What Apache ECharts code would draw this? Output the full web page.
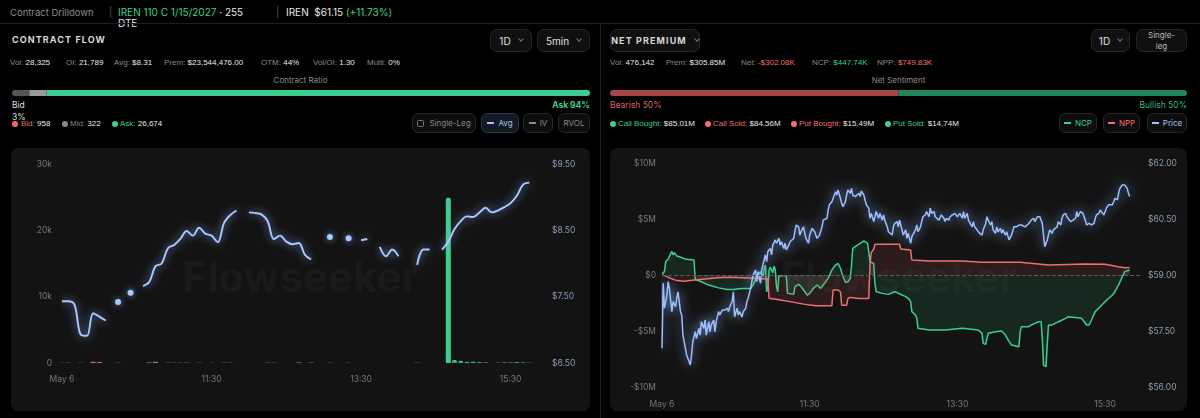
<!DOCTYPE html>
<html><head><meta charset="utf-8">
<script src="https://cdn.jsdelivr.net/npm/echarts@6.0.0/dist/echarts.min.js"></script>
<style>
*{box-sizing:border-box}
html,body{margin:0;padding:0;background:#000}
body{width:1200px;height:418px;overflow:hidden;position:relative;font-family:Inter,"Liberation Sans",Arial,sans-serif;color:#e6e6e6}
.a{position:absolute;white-space:nowrap;line-height:1}
.g{color:#8a8a8a}
.w{color:#e8e8e8}
.grn{color:#3ecf8e}
.red{color:#f07070}
.btn{position:absolute;top:29px;height:23px;border:1px solid #262626;background:#101010;border-radius:7px;display:flex;align-items:center;justify-content:center;font-size:10px;color:#e0e0e0}
.chev{display:inline-block;width:4px;height:4px;border-right:1px solid #777;border-bottom:1px solid #777;transform:rotate(45deg);margin-left:8px;margin-top:-3px}
.stat{position:absolute;top:59px;font-family:"Liberation Sans",Arial,sans-serif;font-size:8px;line-height:8px;white-space:nowrap;color:#8a8a8a}
.stat b{font-weight:400;color:#e8e8e8}
.lg{position:absolute;top:120px;font-family:"Liberation Sans",Arial,sans-serif;font-size:8px;line-height:8px;white-space:nowrap}
.dot{position:absolute;top:121px;width:6px;height:6px;border-radius:50%}
.sbtn{position:absolute;top:113px;height:20px;border:1px solid #262626;background:#0d0d0d;border-radius:6px;font-size:8px;color:#888;display:flex;align-items:center;justify-content:center}
.dash{display:inline-block;width:7px;height:1.5px;margin-right:4px}
.card{position:absolute;top:148px;height:263px;border-radius:8px;overflow:hidden;background:#131313}
.ttl{font-weight:700;font-size:9px;letter-spacing:1.1px;color:#d8d8d8}
</style></head><body>
<!-- header -->
<div class="a" style="left:10px;top:8px;font-size:9.5px;color:#8a8a8a">Contract Drilldown</div>
<div class="a" style="left:109px;top:7px;font-size:10px;color:#555">|</div>
<div class="a" style="left:118px;top:7px;font-size:10px;line-height:11px"><span class="grn">IREN 110 C 1/15/2027</span> <span class="w">· 255</span><br><span class="w">DTE</span></div>
<div class="a" style="left:276px;top:7px;font-size:10px;color:#555">|</div>
<div class="a" style="left:286px;top:7px;font-size:10px"><span class="w">IREN</span>&nbsp; <span class="w">$61.15</span> <span class="grn">(+11.73%)</span></div>
<div style="position:absolute;left:0;top:23px;width:1200px;height:1px;background:#1e1e1e"></div>
<div style="position:absolute;left:600px;top:24px;width:1px;height:394px;background:#1e1e1e"></div>

<!-- left panel -->
<div class="a ttl" style="left:12px;top:35px">CONTRACT FLOW</div>
<div class="btn" style="left:490px;width:42px">1D<span class="chev"></span></div>
<div class="btn" style="left:537px;width:53px">5min<span class="chev"></span></div>
<div class="stat" style="left:10px">Vol: <b>28,325</b></div>
<div class="stat" style="left:66px">OI: <b>21,789</b></div>
<div class="stat" style="left:114px">Avg: <b>$8.31</b></div>
<div class="stat" style="left:164px">Prem: <b>$23,544,476.00</b></div>
<div class="stat" style="left:261px">OTM: <b>44%</b></div>
<div class="stat" style="left:313px">Vol/OI: <b>1.30</b></div>
<div class="stat" style="left:367px">Multi: <b>0%</b></div>
<div class="a" style="left:11px;width:579px;text-align:center;top:76px;font-size:8px;color:#8a8a8a">Contract Ratio</div>
<div id="ratioL" style="position:absolute;left:12px;top:90px;width:578px;height:6px"></div>
<div class="a" style="left:12px;top:101px;font-size:8.5px;color:#ddd">Bid</div>
<div class="a" style="left:12px;top:113px;font-size:8.5px;color:#ddd">3%</div>
<div class="a" style="right:610px;top:101px;font-size:8.5px;font-weight:700;color:#3ecf8e">Ask 94%</div>
<div class="dot" style="left:12px;background:#f26b6b"></div>
<div class="lg" style="left:21px"><span style="color:#e06a6a">Bid:</span> <span class="w">958</span></div>
<div class="dot" style="left:62px;background:#8a8a8a"></div>
<div class="lg" style="left:70px"><span class="g">Mid:</span> <span class="w">322</span></div>
<div class="dot" style="left:112px;background:#3ecf8e"></div>
<div class="lg" style="left:120px"><span class="grn">Ask:</span> <span class="w">26,674</span></div>
<div class="sbtn" style="left:412px;width:64px"><span style="display:inline-block;width:7px;height:7px;border:1px solid #777;border-radius:1.5px;margin-right:5px"></span>Single-Leg</div>
<div class="sbtn" style="left:481px;width:38px;background:#141925;border-color:#2b3650;color:#a9c2ef"><span class="dash" style="background:#a9c2ef"></span>Avg</div>
<div class="sbtn" style="left:523px;width:30px"><span class="dash" style="background:#888"></span>IV</div>
<div class="sbtn" style="left:558px;width:32px">RVOL</div>
<div class="card" id="flow" style="left:11px;width:579px"></div>

<!-- right panel -->
<div class="btn" style="left:610px;width:90px"><span class="ttl">NET PREMIUM</span><span class="chev"></span></div>
<div class="btn" style="left:1091px;width:39px">1D<span class="chev"></span></div>
<div class="btn" style="left:1136px;width:51px;font-size:8px;line-height:11px;text-align:center;color:#bbb">Single-<br>leg</div>
<div class="stat" style="left:610px">Vol: <b>476,142</b></div>
<div class="stat" style="left:666px">Prem: <b>$305.85M</b></div>
<div class="stat" style="left:741px">Net: <b style="color:#f07070">-$302.08K</b></div>
<div class="stat" style="left:812px">NCP: <b style="color:#3ecf8e">$447.74K</b></div>
<div class="stat" style="left:877px">NPP: <b style="color:#f07070">$749.83K</b></div>
<div class="a" style="left:610px;width:577px;text-align:center;top:76px;font-size:8px;color:#8a8a8a">Net Sentiment</div>
<div id="ratioR" style="position:absolute;left:610px;top:90px;width:577px;height:6px"></div>
<div class="a" style="left:610px;top:101px;font-size:8.5px;color:#d8625f">Bearish 50%</div>
<div class="a" style="right:13px;top:101px;font-size:8.5px;color:#38b57e">Bullish 50%</div>
<div class="dot" style="left:610px;background:#3ecf8e"></div>
<div class="lg" style="left:618px"><span class="grn">Call Bought:</span> <span class="w">$85.01M</span></div>
<div class="dot" style="left:705px;background:#f07070"></div>
<div class="lg" style="left:713px"><span class="red">Call Sold:</span> <span class="w">$84.56M</span></div>
<div class="dot" style="left:791px;background:#f07070"></div>
<div class="lg" style="left:799px"><span class="red">Put Bought:</span> <span class="w">$15.49M</span></div>
<div class="dot" style="left:885px;background:#3ecf8e"></div>
<div class="lg" style="left:893px"><span class="grn">Put Sold:</span> <span class="w">$14.74M</span></div>
<div class="sbtn" style="left:1059px;width:38px;color:#3ecf8e"><span class="dash" style="background:#3ecf8e"></span>NCP</div>
<div class="sbtn" style="left:1103px;width:37px;color:#f07070"><span class="dash" style="background:#f07070"></span>NPP</div>
<div class="sbtn" style="left:1147px;width:40px;color:#a9c2ef"><span class="dash" style="background:#a9c2ef"></span>Price</div>
<div class="card" id="prem" style="left:610px;width:577px"></div>

<script>
// ===== shared tick labels =====
const tickTimes  = ['9:30', '11:30', '13:30', '15:30'];
const tickLabels = ['May 6', '11:30', '13:30', '15:30'];

// ===== ratio bars =====
const ratioValues = [3, 3, 94];            // Bid, Mid, Ask %
const ratioColors = ['#555555', '#9a9a9a', '#3ecf8e'];
const sentimentValues = [50, 50];           // Bearish, Bullish %
const sentimentColors = ['#a8474a', '#22845d'];

// ===== contract flow (5-min buckets from 9:30) =====
const flowCategories = [];
for (let t = 9 * 60 + 30; t <= 16 * 60; t += 5) flowCategories.push(Math.floor(t / 60) + ':' + String(t % 60).padStart(2, '0'));
const avgPrice = [7.43,7.43,7.38,6.93,6.91,7.25,7.20,7.14,null,7.42,
  null,7.56,null,7.66,7.72,7.96,8.00,8.23,8.28,8.37,
  8.49,8.42,8.54,8.45,8.42,8.32,8.61,8.73,8.80,null,
  8.77,8.76,8.74,8.64,8.37,8.42,8.33,8.29,8.31,8.13,
  8.06,null,null,8.40,null,null,8.38,null,8.35,8.37,
  null,8.25,8.11,8.21,8.11,null,null,7.98,8.21,8.21,
  null,8.21,8.33,8.52,8.64,8.71,8.70,8.77,8.84,8.77,
  8.80,8.85,8.91,9.02,9.19,9.22];
const bidVol = [28,40,0,0,0,180,140,0,0,40, 0,0,0,0,60,0,0,0,0,0, 50,0,0,0,0,0,0,40,0,0, 0,0,0,40,0,0,0,0,60,0,
  60,0,0,0,0,0,30,0,0,0, 0,0,0,0,0,0,0,40,0,0, 0,0,0,60,0,0,50,0,0,0, 40,0,0,0,0,0];
const midVol = [0,0,0,30,0,0,0,0,0,0, 0,0,0,0,0,180,0,0,0,0, 0,0,0,0,30,0,0,0,0,0, 0,0,0,0,0,0,0,0,40,0,
  0,0,0,0,0,0,0,0,0,0, 0,0,0,0,0,0,0,0,0,0, 0,0,0,0,42,0,0,0,0,0, 0,0,0,0,0,0];
const askVol = [0,0,0,0,0,0,0,0,0,0, 0,0,0,0,40,0,0,30,40,35, 0,0,25,0,0,0,20,0,0,0, 0,0,0,0,24,0,0,0,0,0,
  0,0,0,30,0,0,0,0,0,0, 0,0,0,0,0,0,0,0,0,0, 0,0,24900,380,300,150,120,100,80,0, 0,70,90,110,90,40];

// ===== net premium (minutes after 9:30) =====
const ncpMin = [0,2,3,5,7,8,9,10,11,12,13,15,17,20,26,27,32,38,46,53,58,65,72,74,76,78,80,82,83,84,85,86,87,88,90,91,92,93,94,95,101,102,107,108,111,113,116,118,120,123,126,129,131,135,138,141,143,145,147,149,151,153,154,155,157,161,164,167,168,169,172,173,174,179,184,189,195,198,200,202,203,206,207,208,217,230,244,257,260,261,263,265,271,276,279,282,284,290,291,292,298,300,303,306,308,309,310,312,313,314,317,322,328,330,341,342,345,347,349,352,356,360,363,366,368,371,374,376,380];
const ncpVal = [0.1,0.3,1.2,1.4,1.9,2.1,1.8,2.0,2.1,1.7,1.8,1.6,1.5,1.4,1.35,-0.4,-0.6,-0.9,-1.15,-1.3,-1.3,-1.2,-1.2,-0.9,-0.4,0.0,0.3,-0.1,0.6,0.9,-1.5,-1.2,0.4,0.7,0.2,0.8,0.5,-1.0,-1.5,-0.06,-0.06,-1.64,-1.73,-1.04,-0.83,-1.04,-1.49,-1.79,-1.64,-1.19,-0.89,-1.19,-0.89,-0.3,0.45,0.89,1.04,0.6,-0.15,-0.65,-0.6,-0.3,0.9,2.38,2.53,2.83,3.04,2.83,2.08,1.19,1.04,-0.74,-1.49,-1.64,-1.73,-1.49,-1.79,-1.93,-2.08,-2.38,-3.27,-3.57,-3.87,-4.76,-4.91,-4.91,-4.76,-4.91,-5.21,-6.1,-6.19,-5.21,-5.06,-5.0,-5.36,-5.95,-6.25,-6.4,-5.06,-4.61,-4.61,-4.46,-4.32,-4.17,-4.17,-5.65,-8.04,-8.18,-6.25,-4.46,-4.46,-4.17,-3.87,-3.72,-3.87,-4.02,-4.46,-4.46,-4.02,-3.27,-2.83,-2.38,-2.08,-1.79,-1.49,-0.89,-0.15,0.3,0.45];
const nppMin = [0,3,7,12,18,26,35,45,55,65,75,86,87,95,105,115,125,138,139,143,145,146,150,151,153,160,168,169,170,172,173,193,194,202,203,217,244,260,291,314,344,360,371,376,380];
const nppVal = [0,-0.1,-0.3,-0.5,-0.55,-0.45,-0.35,-0.25,-0.2,-0.25,-0.3,-0.35,-2.07,-2.2,-2.4,-2.6,-2.75,-2.75,-1.34,-1.34,-1.5,-2.7,-2.7,-2.1,-2.0,-2.1,-2.1,1.0,2.0,2.3,2.74,2.74,2.32,2.23,1.34,1.25,1.25,1.13,1.13,0.89,0.98,0.95,0.74,0.65,0.68];
const pxMin = [0,1,2,4,5,6,8,9,11,12,13,15,16,17,19,20,21,23,24,25,27,28,30,31,32,34,35,36,38,39,40,42,43,44,46,47,49,51,53,54,55,57,58,59,61,62,63,65,66,68,69,70,72,73,74,76,77,78,80,81,82,84,85,86,88,89,90,92,93,95,
  96,97,99,100,101,103,104,105,107,108,109,111,112,113,115,116,117,119,120,122,123,124,126,127,128,130,131,132,134,135,136,138,139,141,142,143,145,146,147,149,150,151,153,154,155,157,158,160,161,162,164,165,166,168,169,170,172,173,174,176,177,179,180,181,183,184,185,187,188,189,191,192,
  193,195,196,198,199,200,202,203,204,206,207,208,210,211,212,214,215,217,218,219,221,222,223,225,226,227,229,230,231,233,234,236,237,238,240,241,242,244,245,246,248,249,250,252,253,254,256,257,258,260,261,263,264,265,267,268,269,271,272,273,275,276,277,279,280,282,283,284,286,287,288,290,
  292,295,298,300,302,303,305,306,307,309,310,311,313,314,315,317,318,319,321,322,324,325,326,328,329,330,332,333,334,336,337,338,340,341,342,344,345,347,348,349,351,352,353,355,356,357,359,360,361,363,364,366,367,368,370,371,372,374,375,376,378,379,380];
const pxVal = [57.04,58.78,58.11,58.46,58.82,58.64,58.02,58.29,58.15,58.38,58.55,58.02,57.93,57.39,57.04,56.86,56.77,56.59,56.86,57.21,57.48,57.30,57.57,57.39,57.75,57.57,57.79,57.39,57.75,57.48,57.66,57.79,57.48,57.75,58.02,57.93,58.06,58.06,58.11,58.02,58.15,58.29,58.55,57.88,58.11,57.93,58.02,57.88,58.02,58.11,58.29,58.38,58.64,58.82,59.00,59.13,58.82,59.09,58.78,59.13,59.27,59.54,59.36,59.63,59.71,59.54,59.80,59.94,59.85,59.98,
  59.80,59.89,59.71,59.85,59.67,59.80,59.89,59.85,59.98,60.16,60.34,60.29,60.07,60.16,60.29,60.12,59.98,59.85,60.07,60.25,60.29,60.16,59.98,59.94,60.07,60.29,60.47,60.43,60.52,60.74,60.88,60.96,61.05,61.23,61.14,61.28,61.05,60.92,60.83,60.96,61.14,61.28,61.19,61.32,61.14,61.10,61.05,61.19,61.10,61.25,61.14,61.01,60.88,60.79,60.52,60.65,60.43,60.56,60.70,60.52,60.65,60.47,60.61,60.47,60.29,60.16,60.21,60.07,60.29,60.38,60.43,60.29,
  60.47,60.21,60.07,60.21,59.98,60.12,59.85,60.03,59.98,60.21,60.34,60.16,60.29,60.43,60.56,60.61,60.70,60.56,60.79,60.65,60.70,60.56,60.61,60.47,60.52,60.61,60.52,60.43,60.52,60.47,60.56,60.61,60.56,60.65,60.56,60.61,60.65,60.52,60.70,60.52,60.65,60.47,60.43,60.29,60.43,60.29,60.21,60.25,60.12,60.07,60.21,60.38,60.56,60.47,60.34,60.43,60.21,60.12,60.29,60.16,60.25,60.12,60.21,60.07,60.16,59.94,59.89,60.07,60.29,60.34,60.29,60.34,
  60.34,60.29,60.38,60.47,60.52,60.43,60.56,60.52,60.56,60.38,60.07,59.76,59.94,60.07,60.21,60.12,60.21,60.16,60.29,60.43,60.34,60.52,60.61,60.65,60.56,60.61,60.43,60.38,60.47,60.52,60.70,60.56,60.70,60.74,60.65,60.47,60.34,60.38,60.43,60.34,60.38,60.52,60.61,60.65,60.74,60.70,60.61,60.65,60.79,60.88,60.92,60.88,60.96,61.05,61.01,61.19,61.32,61.41,61.37,61.41,61.32,61.19,61.10];

// ===== helpers =====
const FONT = 'Inter, "Liberation Sans", Arial, sans-serif';
const zip = (a, b) => a.map((x, i) => [x, b[i]]);
const hidden = {show: false};

function ratioBar(id, values, colors) {
  const c = echarts.init(document.getElementById(id));
  const total = values.reduce((a, b) => a + b, 0);
  c.setOption({
    animation: false,
    grid: {left: 0, right: 0, top: 0, bottom: 0},
    xAxis: {type: 'value', min: 0, max: total, show: false},
    yAxis: {type: 'category', data: [''], show: false},
    series: values.map((v, i) => ({
      type: 'bar', stack: 'r', data: [v], barWidth: 6, silent: true,
      itemStyle: {color: colors[i], borderRadius: i === 0 ? [3, 0, 0, 3] : (i === values.length - 1 ? [0, 3, 3, 0] : 0)}
    }))
  });
}
ratioBar('ratioL', ratioValues, ratioColors);
ratioBar('ratioR', sentimentValues, sentimentColors);

const watermark = {type: 'text', left: 'center', top: 'middle', z: 0, silent: true,
  style: {text: 'Flowseeker', font: 'bold 42px ' + FONT, fill: '#1a1a1a'}};

// ===== contract flow chart =====
const isolated = avgPrice.map((v, i) => v != null && avgPrice[i - 1] == null && avgPrice[i + 1] == null);
const flow = echarts.init(document.getElementById('flow'));
flow.setOption({
  backgroundColor: '#131313',
  animation: false,
  textStyle: {fontFamily: FONT},
  grid: {left: 51, right: 42, top: 16, bottom: 48},
  graphic: [watermark],
  xAxis: {
    type: 'category', data: flowCategories, boundaryGap: false,
    axisLine: hidden, axisTick: hidden, splitLine: hidden,
    axisLabel: {color: '#777', fontSize: 8.5, margin: 12,
      interval: (i, v) => tickTimes.includes(v),
      formatter: v => tickLabels[tickTimes.indexOf(v)]}
  },
  yAxis: [
    {type: 'value', min: 0, max: 30000, interval: 10000, axisLine: hidden, axisTick: hidden, splitLine: hidden,
     axisLabel: {color: '#777', fontSize: 8.5, margin: 10, formatter: v => v === 0 ? '0' : (v / 1000) + 'k'}},
    {type: 'value', min: 6.5, max: 9.5, interval: 1, position: 'right', axisLine: hidden, axisTick: hidden, splitLine: hidden,
     axisLabel: {color: '#8c9bb5', fontSize: 8.5, margin: 4, formatter: v => '$' + v.toFixed(2)}}
  ],
  series: [
    {type: 'bar', name: 'Bid', stack: 'vol', data: bidVol, barWidth: 5, itemStyle: {color: '#f26b6b'}, z: 2},
    {type: 'bar', name: 'Mid', stack: 'vol', data: midVol, barWidth: 5, itemStyle: {color: '#8a8a8a'}, z: 2},
    {type: 'bar', name: 'Ask', stack: 'vol', data: askVol, barWidth: 5, itemStyle: {color: '#3ecf8e', borderRadius: [2, 2, 0, 0]}, z: 2},
    {type: 'line', name: 'Avg', yAxisIndex: 1, data: avgPrice, smooth: 0.35, connectNulls: false,
     symbol: 'circle', showSymbol: true, showAllSymbol: true,
     symbolSize: (v, p) => isolated[p.dataIndex] ? 6 : 0,
     itemStyle: {color: '#abc8ff', shadowBlur: 6, shadowColor: 'rgba(140,180,255,0.8)'},
     lineStyle: {color: '#abc8ff', width: 1.9, shadowBlur: 9, shadowColor: 'rgba(140,180,255,0.9)'}, z: 3}
  ]
});

// ===== net premium chart =====
const prem = echarts.init(document.getElementById('prem'));
prem.setOption({
  backgroundColor: '#131313',
  animation: false,
  textStyle: {fontFamily: FONT},
  grid: {left: 52, right: 45, top: 15, bottom: 24},
  graphic: [watermark],
  xAxis: {
    type: 'value', min: 0, max: 390, interval: 120,
    axisLine: hidden, axisTick: hidden, splitLine: hidden,
    axisLabel: {color: '#777', fontSize: 8.5, margin: 13, showMaxLabel: false,
      formatter: v => tickLabels[v / 120] || ''}
  },
  yAxis: [
    {type: 'value', min: -10, max: 10, interval: 5, axisLine: hidden, axisTick: hidden, splitLine: hidden,
     axisLabel: {color: '#777', fontSize: 8.5, margin: 6,
       formatter: v => v === 0 ? '$0' : (v < 0 ? '-$' + (-v) + 'M' : '$' + v + 'M')}},
    {type: 'value', min: 56, max: 62, interval: 1.5, position: 'right', axisLine: hidden, axisTick: hidden, splitLine: hidden,
     axisLabel: {color: '#8c9bb5', fontSize: 8.5, margin: 6, formatter: v => '$' + v.toFixed(2)}}
  ],
  series: [
    {type: 'line', name: 'NCP', data: zip(ncpMin, ncpVal), symbol: 'none', z: 2,
     lineStyle: {color: '#3ecf8e', width: 1.5}, itemStyle: {color: '#3ecf8e'},
     areaStyle: {color: 'rgba(62,207,142,0.17)', origin: 'auto'},
     markLine: {silent: true, symbol: 'none', label: hidden,
       lineStyle: {color: '#5a5a5a', type: 'dashed', width: 1}, data: [{yAxis: 0}]}},
    {type: 'line', name: 'NPP', data: zip(nppMin, nppVal), symbol: 'none', z: 3,
     lineStyle: {color: '#f07070', width: 1.5}, itemStyle: {color: '#f07070'},
     areaStyle: {color: 'rgba(240,100,100,0.17)', origin: 'auto'}},
    {type: 'line', name: 'Price', yAxisIndex: 1, data: zip(pxMin, pxVal), symbol: 'none', z: 4,
     lineStyle: {color: '#9cc0ff', width: 1.5, shadowBlur: 12, shadowColor: 'rgba(140,180,255,0.95)'},
     itemStyle: {color: '#9cc0ff'}}
  ]
});
</script>
</body></html>
